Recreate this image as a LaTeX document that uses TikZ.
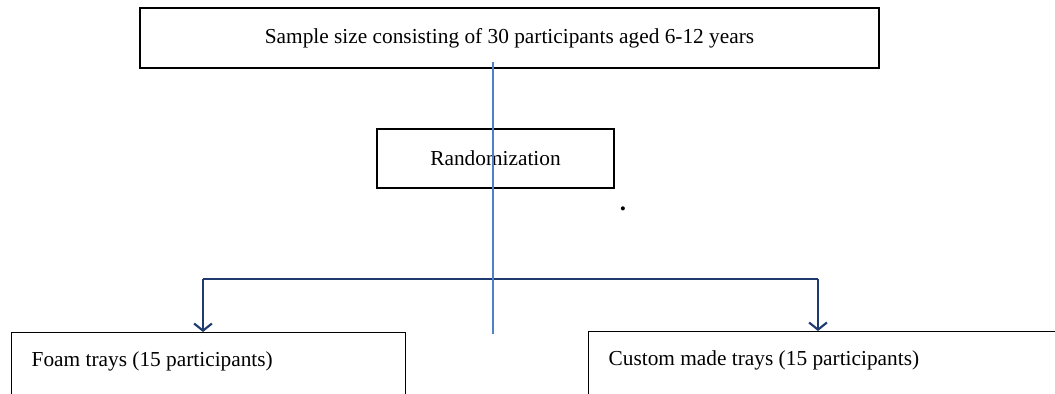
\documentclass[tikz,border=0pt]{standalone}
\usepackage{fontspec}
\setmainfont{Liberation Serif}
\usepackage{xcolor}
\usepackage{tikz}
\usetikzlibrary{arrows.meta,positioning}
\definecolor{navyx}{HTML}{1F3A6E}
\definecolor{bluex}{HTML}{5080C8}
\tikzset{
  box/.style={draw=black,line width=0.8pt,inner sep=0pt,align=center,font=\fontsize{12}{14}\selectfont},
  tbox/.style={draw=black,line width=0.75pt,anchor=north west,align=flush left,inner xsep=11.25pt,inner ysep=10pt,text height=9pt,text depth=40pt,font=\fontsize{12}{14}\selectfont},
  ar/.style={-{Straight Barb[length=4pt,width=10pt]},line width=1.2pt,navyx},
  hln/.style={line width=0.7pt,navyx},
  vln/.style={line width=0.75pt,bluex}
}

\begin{document}
\begin{tikzpicture}[x=0.5625pt,y=-0.5625pt]
\useasboundingbox (0,0) rectangle (1055,393);
\clip (0,0) rectangle (1055,393);
\node[box,minimum width=415.7pt,minimum height=33.75pt] (sample) at (509.5,38) {Sample size consisting of 30 participants aged 6-12 years};
\node[box,minimum width=133.3pt,minimum height=33.2pt] (rand) at (495.5,158.5) {Randomization};
\node[font=\fontsize{14}{16}\selectfont\bfseries,inner sep=0pt] (dot) at (623,209) {.};
\node[tbox,text width=199.1pt] (foam) at (11,332) {Foam trays (15 participants)};
\node[tbox,text width=260pt] (custom) at (588,331) {Custom made trays (15 participants)};
\coordinate (vtop) at (493,62);
\coordinate (vbot) at (493,334);
\coordinate (hl) at (203,279);
\coordinate (hr) at (818,279);
\draw[hln] (hl) -- (hr);
\draw[ar] (hl) -- (hl |- foam.north);
\draw[ar] (hr) -- (hr |- custom.north);
\draw[vln] (vtop) -- (vbot);
\end{tikzpicture}
\end{document}
